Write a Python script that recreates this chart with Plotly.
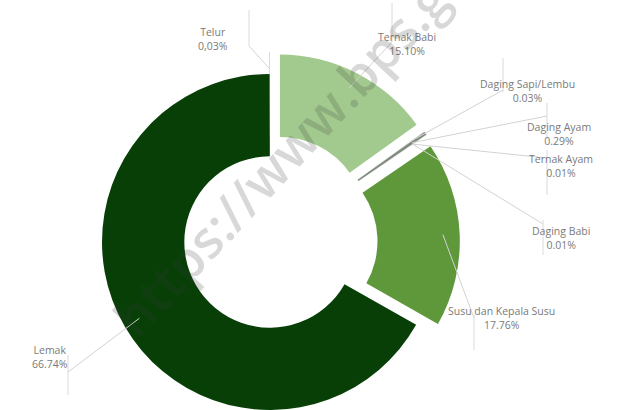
import math
import plotly.graph_objects as go

# ---- data ----
categories = ["Ternak Babi", "Daging Sapi/Lembu", "Daging Ayam", "Ternak Ayam",
              "Daging Babi", "Susu dan Kepala Susu", "Lemak", "Telur"]
values = [15.10, 0.03, 0.29, 0.01, 0.01, 17.76, 66.74, 0.03]
pct_text = ["15.10%", "0.03%", "0.29%", "0.01%", "0.01%", "17.76%", "66.74%", "0,03%"]

# ---- styling ----
colors = ["#a2ca8e", "#8f9c8c", "#7f8b7d", "#8f9c8c", "#8f9c8c", "#5e983b", "#073f07", "#7f8b7d"]
pulls = [0.13, 0.13, 0.13, 0.13, 0.13, 0.13, 0.0, 0.13]

W, H = 635, 440
CX, CY, R = 270, 242, 168
HOLE = 0.51
maxpull = max(pulls)
half = R * (1 + maxpull)
dom_x = [(CX - half) / W, (CX + half) / W]
dom_y = [1 - (CY + half) / H, 1 - (CY - half) / H]

# label layout (pixel positions): text centre, bar x, bar y-range, leader anchor y
label_pos = [
    (438, 28, 392, (3, 42), 42),
    (577, 75, 503, (58, 92), 90),
    (593, 118, 547, (103, 137), 116),
    (595, 166, 547, (150, 195), 158),
    (592, 238, 543, (220, 255), 224),
    (557, 334, 474, (315, 350), 318),
    (30, 373, 68, (355, 395), 372),
    (213, 23, 249, (10, 46), 46),
]


def P(x, y):
    return x / W, 1 - y / H


fig = go.Figure(go.Pie(
    labels=categories, values=values, sort=False, direction="clockwise",
    rotation=0, hole=HOLE, pull=pulls, textinfo="none",
    marker=dict(colors=colors, line=dict(width=0)),
    domain=dict(x=dom_x, y=dom_y), showlegend=False,
))

total = sum(values)
cum = 0.0
shapes, annotations = [], []
for i, v in enumerate(values):
    mid = (cum + v / 2) / total
    cum += v
    th = math.radians(mid * 360)
    rho = pulls[i] * R + 0.9 * R
    sx, sy = CX + rho * math.sin(th), CY - rho * math.cos(th)
    tx, ty, bx, (by0, by1), ay = label_pos[i]
    x0, y0 = P(sx, sy)
    x1, y1 = P(bx, ay)
    shapes.append(dict(type="line", xref="paper", yref="paper", x0=x0, y0=y0, x1=x1, y1=y1,
                       line=dict(color="#d2d2d2", width=1)))
    bx0, bb0 = P(bx, by0)
    _, bb1 = P(bx, by1)
    shapes.append(dict(type="line", xref="paper", yref="paper", x0=bx0, y0=bb0, x1=bx0, y1=bb1,
                       line=dict(color="#dadada", width=1)))
    ax_, ay_ = P(tx, ty)
    annotations.append(dict(x=ax_, y=ay_, xref="paper", yref="paper", showarrow=False,
                            text=f"{categories[i]}<br>{pct_text[i]}", align="center",
                            font=dict(family="Open Sans", size=10.5, color="#7a7a7a")))

wx, wy = P(312, 124)
annotations.append(dict(x=wx, y=wy, xref="paper", yref="paper", showarrow=False,
                        xanchor="center", yanchor="middle",
                        text="https://www.bps.go.id", textangle=-47,
                        font=dict(family="Open Sans", size=52, color="rgba(60,60,60,0.2)", weight=600)))

fig.update_layout(width=W, height=H, margin=dict(l=0, r=0, t=0, b=0),
                  paper_bgcolor="white", plot_bgcolor="white",
                  shapes=shapes, annotations=annotations)

fig.write_html("out.html",
               post_script="document.body.style.margin='0';document.body.style.overflow='hidden';")
